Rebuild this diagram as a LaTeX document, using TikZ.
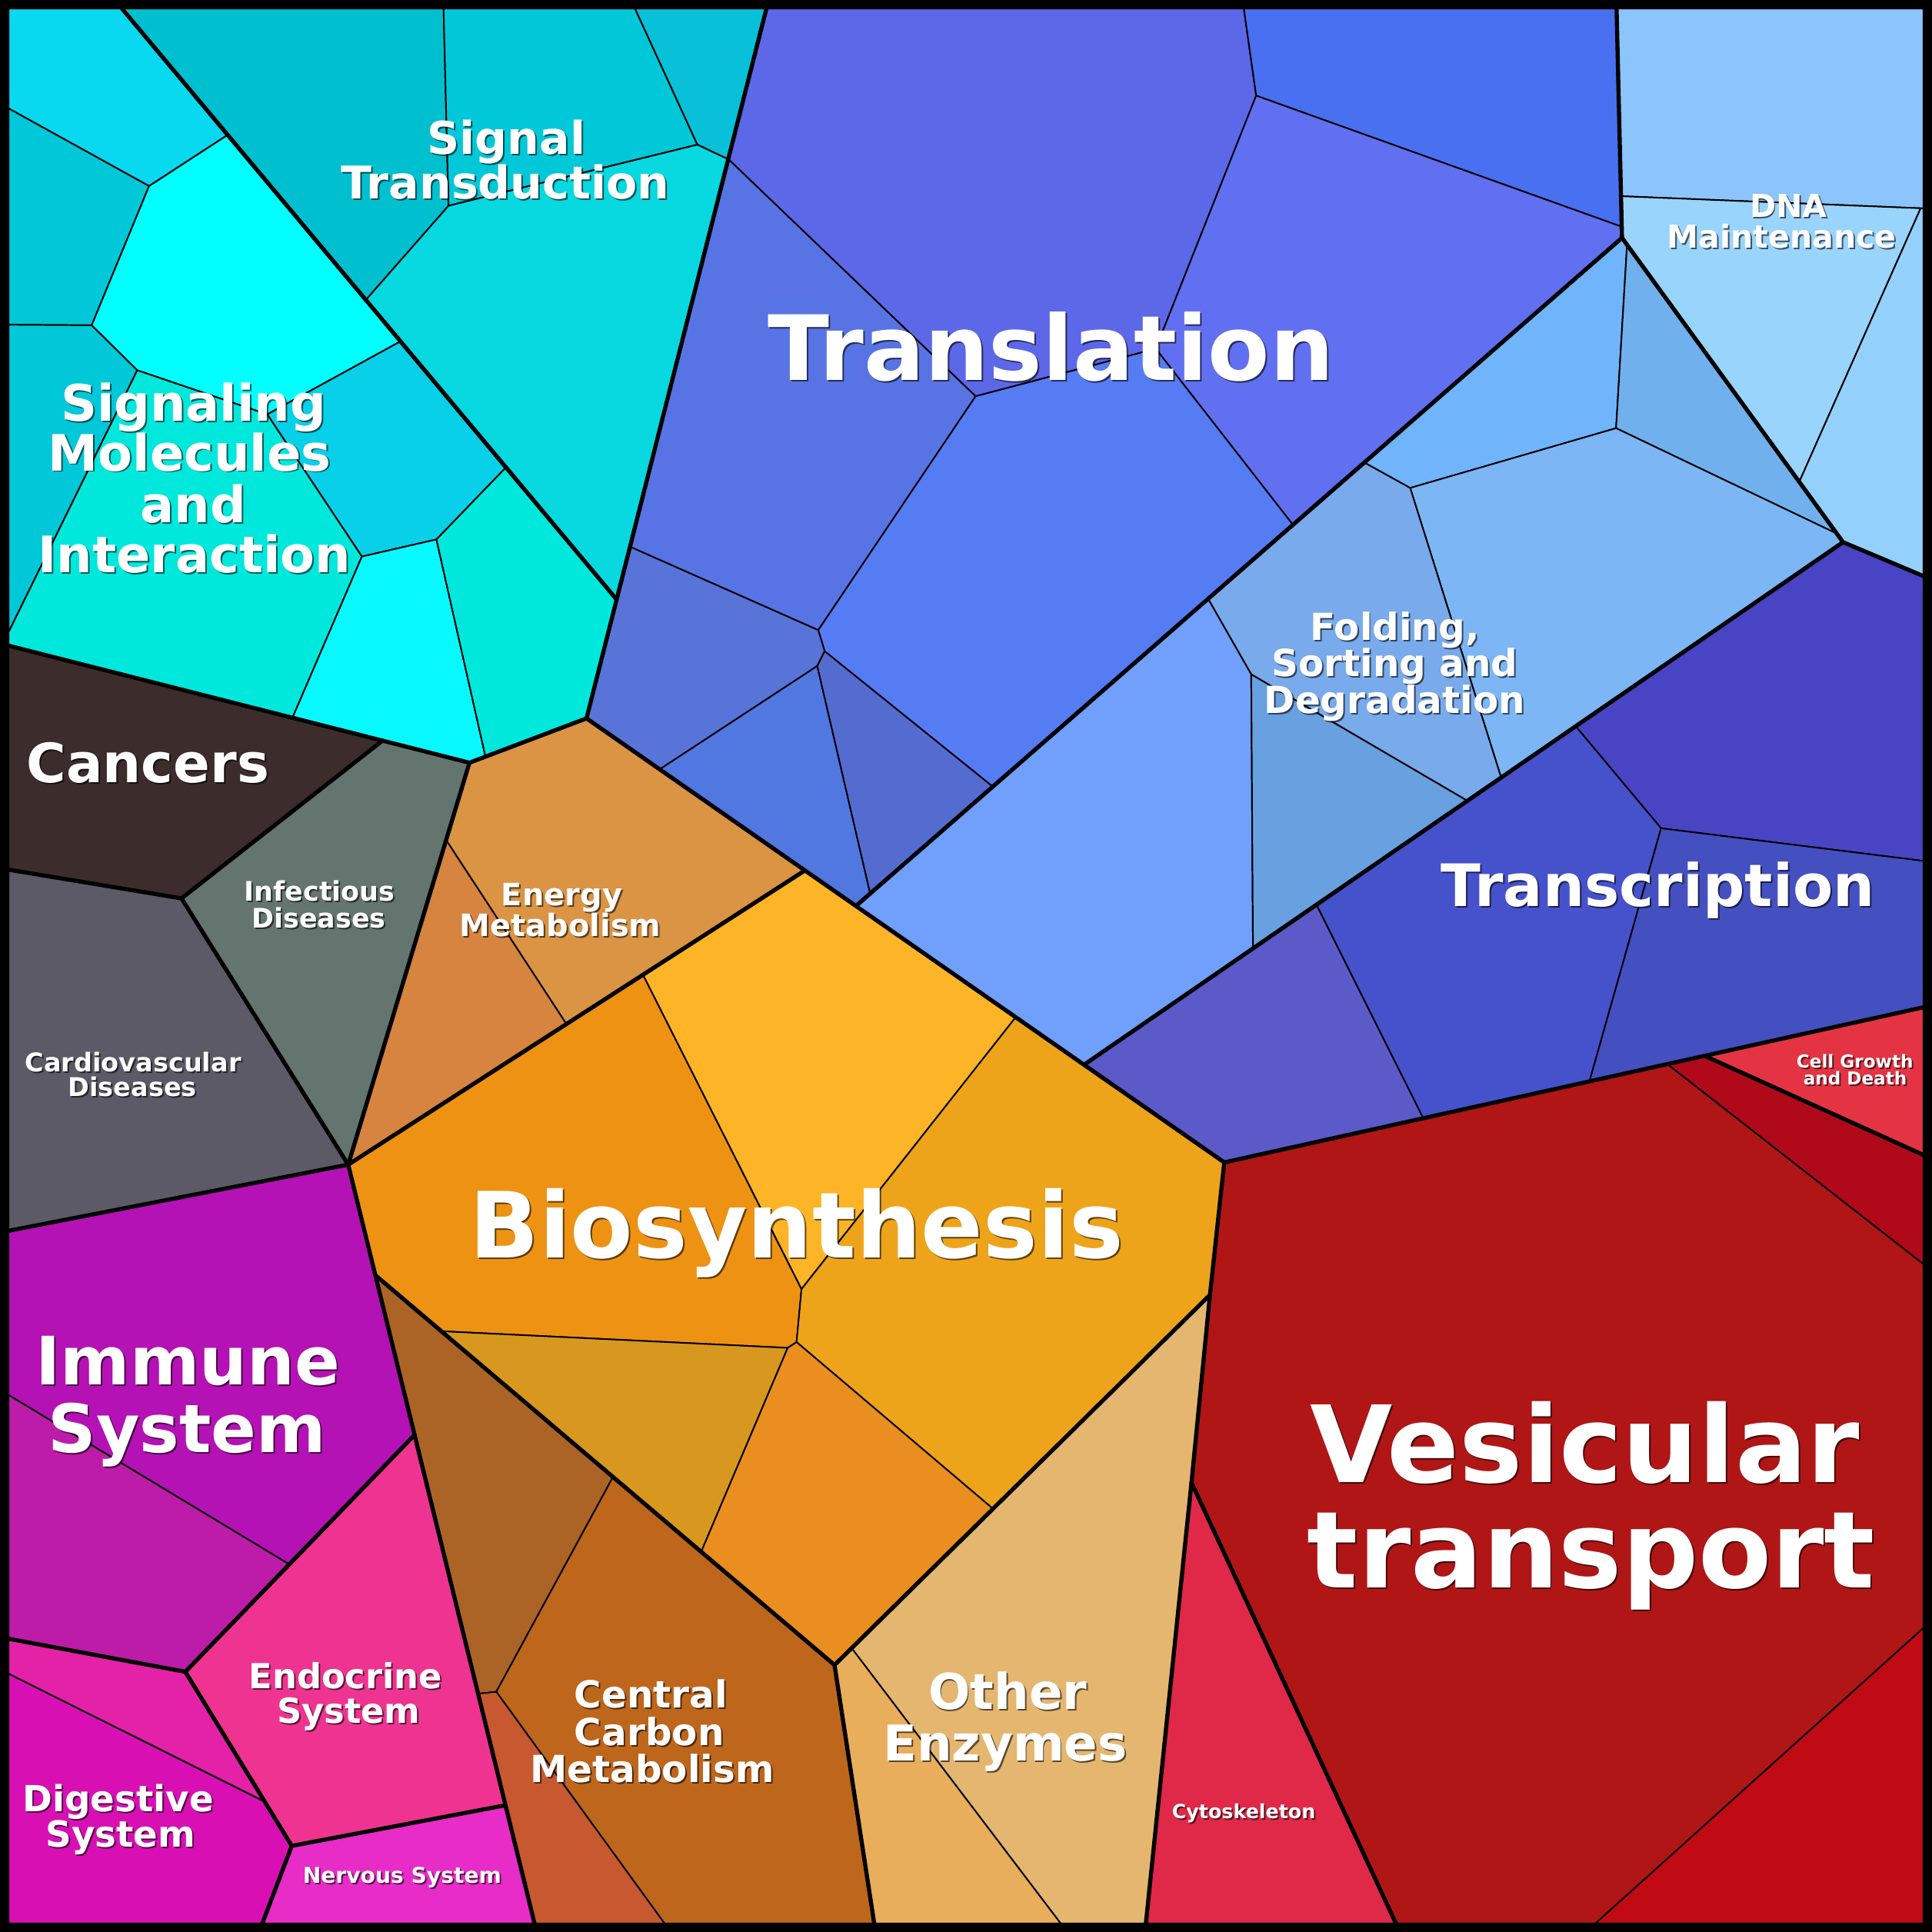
\documentclass[tikz,border=0pt]{standalone}
\usepackage{fontspec}
\setmainfont{DejaVu Sans}
% colours
\definecolor{sa1}{RGB}{8,216,240}
\definecolor{sa2}{RGB}{0,200,216}
\definecolor{sa3}{RGB}{0,255,255}
\definecolor{sa5}{RGB}{8,208,232}
\definecolor{sa6}{RGB}{0,232,220}
\definecolor{sa7}{RGB}{8,248,255}
\definecolor{st1}{RGB}{0,192,208}
\definecolor{st2}{RGB}{0,200,216}
\definecolor{st3}{RGB}{8,192,216}
\definecolor{st4}{RGB}{8,216,224}
\definecolor{tl1}{RGB}{92,104,232}
\definecolor{tl2}{RGB}{72,112,240}
\definecolor{tl3}{RGB}{96,112,240}
\definecolor{tl4}{RGB}{88,116,228}
\definecolor{tl5}{RGB}{86,124,244}
\definecolor{tl6}{RGB}{88,116,216}
\definecolor{tl7}{RGB}{80,120,224}
\definecolor{tl8}{RGB}{84,108,208}
\definecolor{fo1}{RGB}{112,180,252}
\definecolor{fo2}{RGB}{112,176,236}
\definecolor{fo3}{RGB}{124,182,244}
\definecolor{fo4}{RGB}{120,170,236}
\definecolor{fo5}{RGB}{112,160,252}
\definecolor{fo6}{RGB}{104,160,224}
\definecolor{dn1}{RGB}{140,196,252}
\definecolor{dn2}{RGB}{152,212,252}
\definecolor{dn3}{RGB}{148,208,252}
\definecolor{tr1}{RGB}{72,68,196}
\definecolor{tr2}{RGB}{70,82,204}
\definecolor{tr3}{RGB}{68,80,192}
\definecolor{tr4}{RGB}{92,90,200}
\definecolor{ve1}{RGB}{176,22,22}
\definecolor{ve2}{RGB}{176,10,26}
\definecolor{ve3}{RGB}{228,52,68}
\definecolor{ve4}{RGB}{192,10,20}
\definecolor{cyto}{RGB}{224,40,72}
\definecolor{en1}{RGB}{218,148,68}
\definecolor{en2}{RGB}{214,132,64}
\definecolor{canc}{RGB}{60,44,44}
\definecolor{infe}{RGB}{100,116,110}
\definecolor{card}{RGB}{92,90,102}
\definecolor{im1}{RGB}{180,18,180}
\definecolor{im2}{RGB}{188,28,168}
\definecolor{endo}{RGB}{238,52,144}
\definecolor{dg1}{RGB}{228,34,168}
\definecolor{dg2}{RGB}{216,16,180}
\definecolor{nerv}{RGB}{232,44,200}
\definecolor{cc1}{RGB}{172,100,38}
\definecolor{cc2}{RGB}{190,102,28}
\definecolor{cc3}{RGB}{200,88,48}
\definecolor{oe1}{RGB}{228,182,112}
\definecolor{oe2}{RGB}{232,174,92}
\definecolor{bi1}{RGB}{238,146,20}
\definecolor{bi2}{RGB}{253,180,38}
\definecolor{bi3}{RGB}{238,164,26}
\definecolor{bi4}{RGB}{216,152,32}
\definecolor{bi5}{RGB}{234,142,32}
\tikzset{
  cell/.style={draw=black,line width=0.35pt,line join=round},
  boldedge/.style={draw=black,line width=0.95pt,line join=round,line cap=round},
  lbltxt/.style={anchor=base,inner sep=0pt,outer sep=0pt}
}
\newcommand{\mylbl}[5]{%
  \node[lbltxt,text=black,opacity=0.6,xshift=0.35pt,yshift=-0.35pt,font=\fontsize{#4pt}{#4pt}\selectfont\bfseries] (#1s) at (#2,#3) {#5};
  \node[lbltxt,text=white,font=\fontsize{#4pt}{#4pt}\selectfont\bfseries] (#1) at (#2,#3) {#5};}
\begin{document}
\begin{tikzpicture}[x=0.01cm,y=-0.01cm]
\useasboundingbox (0,0) rectangle (1568,1568);
\fill[black] (0,0) rectangle (1568,1568);
% ---------- coordinates ----------
\coordinate (s1) at (99,7);
\coordinate (s2) at (500,486);
\coordinate (a1) at (184,110);
\coordinate (a2) at (121,151);
\coordinate (a3) at (7,88);
\coordinate (a4) at (74.4,264);
\coordinate (a5) at (7,263.5);
\coordinate (a6) at (111.4,300.5);
\coordinate (a7) at (216.9,336.3);
\coordinate (a8) at (324.4,277.4);
\coordinate (a9) at (293.7,451.7);
\coordinate (a10) at (354.2,437.8);
\coordinate (a11) at (410,380);
\coordinate (a12) at (394,614);
\coordinate (a13) at (237.6,582);
\coordinate (a14) at (7,513);
\coordinate (c0) at (7,524);
\coordinate (j1) at (381,619);
\coordinate (j2) at (476,583);
\coordinate (t1) at (360,7);
\coordinate (t2) at (364,167);
\coordinate (t3) at (515.4,7);
\coordinate (t4) at (566,117.4);
\coordinate (t6) at (297.3,243);
\coordinate (b0) at (622,7);
\coordinate (q1) at (591.5,129.5);
\coordinate (u1) at (1009.5,7);
\coordinate (u2) at (1019.5,77.6);
\coordinate (u3) at (938,283);
\coordinate (u4) at (791.8,321.6);
\coordinate (u5) at (664.1,511.4);
\coordinate (u6) at (511.5,443.8);
\coordinate (u7) at (669.3,528.5);
\coordinate (u8) at (663.3,540.5);
\coordinate (u9) at (536,624);
\coordinate (u10) at (706.2,725);
\coordinate (j3) at (695,735);
\coordinate (u11) at (805.7,638.4);
\coordinate (u12) at (1049.4,426);
\coordinate (n1) at (1312,7);
\coordinate (n2) at (1316.4,193);
\coordinate (u13) at (1316.2,184);
\coordinate (f1) at (1320.5,198.6);
\coordinate (f2) at (1311.6,347.5);
\coordinate (f3) at (1144.5,396);
\coordinate (f4) at (1107.3,375.4);
\coordinate (f5) at (1491,433.2);
\coordinate (f6) at (1218.3,631);
\coordinate (f7) at (1190.9,649.9);
\coordinate (f8) at (1015.5,547.3);
\coordinate (f9) at (980.5,486);
\coordinate (f10) at (1016.9,769.7);
\coordinate (j4) at (880,864);
\coordinate (d1) at (1495.8,440);
\coordinate (d2) at (1561,467.5);
\coordinate (g1) at (1315.6,159.2);
\coordinate (g2) at (1558.8,169);
\coordinate (g3) at (1460.3,391);
\coordinate (r1) at (1278.8,589.4);
\coordinate (r2) at (1348.1,672.2);
\coordinate (r3) at (1561,698.7);
\coordinate (r4) at (1290,877.6);
\coordinate (r5) at (1068.4,734.3);
\coordinate (r6) at (1155.1,907.6);
\coordinate (r7) at (1561,817.5);
\coordinate (v0) at (993.6,943.4);
\coordinate (w1) at (1353.3,863.6);
\coordinate (w2) at (1383.5,856.9);
\coordinate (w3) at (1561,937.3);
\coordinate (w4) at (1561,1025.8);
\coordinate (w5) at (1561,1321.3);
\coordinate (w6) at (1294.9,1561);
\coordinate (w7) at (1132.9,1561);
\coordinate (w8) at (967,1203.3);
\coordinate (w9) at (930,1561);
\coordinate (w10) at (982,1050.9);
\coordinate (e1) at (653.3,706.4);
\coordinate (e2) at (362.1,681.8);
\coordinate (e3) at (459.7,831.1);
\coordinate (k1) at (282.6,945.2);
\coordinate (h1) at (310.4,601.1);
\coordinate (h2) at (147.3,729.1);
\coordinate (h3) at (7,705.8);
\coordinate (h4) at (7,998.9);
\coordinate (m0) at (304.7,1035);
\coordinate (m1) at (336.5,1164.5);
\coordinate (m2) at (234.8,1269.6);
\coordinate (m3) at (7,1132.2);
\coordinate (m4) at (150.4,1356.8);
\coordinate (m5) at (7,1330);
\coordinate (m6) at (214.9,1462.3);
\coordinate (m7) at (7,1358.4);
\coordinate (m8) at (236.8,1498.1);
\coordinate (m9) at (410.3,1465.1);
\coordinate (m10) at (212.9,1561);
\coordinate (m11) at (433.8,1561);
\coordinate (p1) at (497.5,1198.7);
\coordinate (p2) at (402.8,1373);
\coordinate (p3) at (388.1,1374.6);
\coordinate (p4) at (539.3,1561);
\coordinate (cc) at (677.3,1351.3);
\coordinate (p5) at (709.5,1561);
\coordinate (o1) at (691.2,1337.6);
\coordinate (o2) at (860.8,1561);
\coordinate (b1) at (521.9,791.1);
\coordinate (b2) at (650.5,1046.2);
\coordinate (b3) at (824.4,825.5);
\coordinate (b4) at (646.5,1089.2);
\coordinate (b5) at (639.3,1093.9);
\coordinate (b6) at (358.2,1080.4);
\coordinate (b7) at (569.1,1259.4);
\coordinate (b8) at (805.9,1224.5);
\begin{scope}
\clip (7,7) rectangle (1561,1561);
% Signaling Molecules and Interaction
\filldraw[cell,fill=sa1] (7,7) -- (s1) -- (a1) -- (a2) -- (a3) -- cycle;
\filldraw[cell,fill=sa2] (a3) -- (a2) -- (a4) -- (a5) -- cycle;
\filldraw[cell,fill=sa3] (a2) -- (a1) -- (a8) -- (a7) -- (a6) -- (a4) -- cycle;
\filldraw[cell,fill=sa2] (a5) -- (a4) -- (a6) -- (a14) -- cycle;
\filldraw[cell,fill=sa5] (a7) -- (a8) -- (a11) -- (a10) -- (a9) -- cycle;
\filldraw[cell,fill=sa6] (a14) -- (a6) -- (a7) -- (a9) -- (a13) -- (c0) -- cycle;
\filldraw[cell,fill=sa7] (a9) -- (a10) -- (a12) -- (j1) -- (a13) -- cycle;
\filldraw[cell,fill=sa6] (a10) -- (a11) -- (s2) -- (j2) -- (a12) -- cycle;
% Signal Transduction
\filldraw[cell,fill=st1] (s1) -- (t1) -- (t2) -- (t6) -- cycle;
\filldraw[cell,fill=st2] (t1) -- (t3) -- (t4) -- (t2) -- cycle;
\filldraw[cell,fill=st3] (t3) -- (b0) -- (q1) -- (t4) -- cycle;
\filldraw[cell,fill=st4] (t2) -- (t4) -- (q1) -- (s2) -- (t6) -- cycle;
% Translation
\filldraw[cell,fill=tl1] (b0) -- (u1) -- (u2) -- (u3) -- (u4) -- (q1) -- cycle;
\filldraw[cell,fill=tl2] (u1) -- (n1) -- (u13) -- (u2) -- cycle;
\filldraw[cell,fill=tl3] (u2) -- (u13) -- (n2) -- (u12) -- (u3) -- cycle;
\filldraw[cell,fill=tl4] (q1) -- (u4) -- (u5) -- (u6) -- cycle;
\filldraw[cell,fill=tl5] (u4) -- (u3) -- (u12) -- (u11) -- (u7) -- (u5) -- cycle;
\filldraw[cell,fill=tl6] (u6) -- (u5) -- (u7) -- (u8) -- (u9) -- (j2) -- cycle;
\filldraw[cell,fill=tl7] (u9) -- (u8) -- (u10) -- (j3) -- cycle;
\filldraw[cell,fill=tl8] (u8) -- (u7) -- (u11) -- (u10) -- cycle;
% Folding, Sorting and Degradation
\filldraw[cell,fill=fo1] (f4) -- (n2) -- (f1) -- (f2) -- (f3) -- cycle;
\filldraw[cell,fill=fo2] (f1) -- (f5) -- (f2) -- cycle;
\filldraw[cell,fill=fo3] (f3) -- (f2) -- (f5) -- (d1) -- (f6) -- cycle;
\filldraw[cell,fill=fo4] (f9) -- (f4) -- (f3) -- (f6) -- (f7) -- (f8) -- cycle;
\filldraw[cell,fill=fo5] (j3) -- (f9) -- (f8) -- (f10) -- (j4) -- cycle;
\filldraw[cell,fill=fo6] (f8) -- (f7) -- (f10) -- cycle;
% DNA Maintenance
\filldraw[cell,fill=dn1] (n1) -- (1561,7) -- (1561,169) -- (g2) -- (g1) -- cycle;
\filldraw[cell,fill=dn2] (g1) -- (g2) -- (g3) -- (n2) -- cycle;
\filldraw[cell,fill=dn3] (g2) -- (1561,169) -- (d2) -- (d1) -- (g3) -- cycle;
% Transcription
\filldraw[cell,fill=tr1] (r1) -- (d1) -- (d2) -- (r3) -- (r2) -- cycle;
\filldraw[cell,fill=tr2] (r5) -- (r1) -- (r2) -- (r4) -- (r6) -- cycle;
\filldraw[cell,fill=tr3] (r2) -- (r3) -- (r7) -- (r4) -- cycle;
\filldraw[cell,fill=tr4] (j4) -- (r5) -- (r6) -- (v0) -- cycle;
% Vesicular transport, Cell Growth and Death, Cytoskeleton
\filldraw[cell,fill=ve1] (v0) -- (w1) -- (w4) -- (w5) -- (w6) -- (w7) -- (w8) -- (w10) -- cycle;
\filldraw[cell,fill=ve2] (w1) -- (w2) -- (w3) -- (w4) -- cycle;
\filldraw[cell,fill=ve3] (w2) -- (r7) -- (w3) -- cycle;
\filldraw[cell,fill=ve4] (w5) -- (1561,1561) -- (w6) -- cycle;
\filldraw[cell,fill=cyto] (w8) -- (w7) -- (w9) -- cycle;
% Energy Metabolism
\filldraw[cell,fill=en1] (j1) -- (j2) -- (e1) -- (e3) -- (e2) -- cycle;
\filldraw[cell,fill=en2] (e2) -- (e3) -- (k1) -- cycle;
% Diseases
\filldraw[cell,fill=canc] (c0) -- (h1) -- (h2) -- (h3) -- cycle;
\filldraw[cell,fill=infe] (h1) -- (j1) -- (k1) -- (h2) -- cycle;
\filldraw[cell,fill=card] (h3) -- (h2) -- (k1) -- (h4) -- cycle;
% Immune, Endocrine, Digestive, Nervous
\filldraw[cell,fill=im1] (h4) -- (k1) -- (m1) -- (m2) -- (m3) -- cycle;
\filldraw[cell,fill=im2] (m3) -- (m2) -- (m4) -- (m5) -- cycle;
\filldraw[cell,fill=endo] (m1) -- (m9) -- (m8) -- (m4) -- cycle;
\filldraw[cell,fill=dg1] (m5) -- (m4) -- (m6) -- (m7) -- cycle;
\filldraw[cell,fill=dg2] (m7) -- (m6) -- (m8) -- (m10) -- (7,1561) -- cycle;
\filldraw[cell,fill=nerv] (m8) -- (m9) -- (m11) -- (m10) -- cycle;
% Central Carbon Metabolism
\filldraw[cell,fill=cc1] (m0) -- (p1) -- (p2) -- (p3) -- cycle;
\filldraw[cell,fill=cc2] (p1) -- (cc) -- (p5) -- (p4) -- (p2) -- cycle;
\filldraw[cell,fill=cc3] (p3) -- (p2) -- (p4) -- (m11) -- cycle;
% Other Enzymes
\filldraw[cell,fill=oe1] (o1) -- (w10) -- (w9) -- (o2) -- cycle;
\filldraw[cell,fill=oe2] (cc) -- (o1) -- (o2) -- (p5) -- cycle;
% Biosynthesis
\filldraw[cell,fill=bi1] (k1) -- (b1) -- (b2) -- (b4) -- (b5) -- (b6) -- (m0) -- cycle;
\filldraw[cell,fill=bi2] (b1) -- (e1) -- (b3) -- (b2) -- cycle;
\filldraw[cell,fill=bi3] (b3) -- (v0) -- (w10) -- (b8) -- (b4) -- (b2) -- cycle;
\filldraw[cell,fill=bi4] (b6) -- (b5) -- (b7) -- cycle;
\filldraw[cell,fill=bi5] (b5) -- (b4) -- (b8) -- (cc) -- (b7) -- cycle;
% ---------- category borders ----------
\draw[boldedge] (s1) -- (s2);
\draw[boldedge] (b0) -- (j2);
\draw[boldedge] (c0) -- (j1) -- (j2) -- (v0);
\draw[boldedge] (j3) -- (n2);
\draw[boldedge] (n1) -- (n2) -- (d1) -- (d2);
\draw[boldedge] (d1) -- (j4);
\draw[boldedge] (v0) -- (r7);
\draw[boldedge] (v0) -- (w10) -- (w8) -- (w9);
\draw[boldedge] (w8) -- (w7);
\draw[boldedge] (w2) -- (w3);
\draw[boldedge] (j1) -- (k1) -- (m11);
\draw[boldedge] (e1) -- (k1);
\draw[boldedge] (h4) -- (k1);
\draw[boldedge] (h1) -- (h2) -- (h3);
\draw[boldedge] (h2) -- (k1);
\draw[boldedge] (m0) -- (cc) -- (w10);
\draw[boldedge] (cc) -- (p5);
\draw[boldedge] (m1) -- (m4) -- (m5);
\draw[boldedge] (m4) -- (m8) -- (m10);
\draw[boldedge] (m8) -- (m9);
\end{scope}
% ---------- labels ----------
\mylbl{ltransl}{853}{308.5}{20.8}{Translation}
\mylbl{lbio}{646.5}{1021}{21.1}{Biosynthesis}
\mylbl{lves1}{1286.4}{1203.3}{24.6}{Vesicular}
\mylbl{lves2}{1291.5}{1288.9}{24.6}{transport}
\mylbl{ltransc}{1345.6}{735.6}{13.5}{Transcription}
\mylbl{lsm1}{157}{341.5}{11.6}{Signaling}
\mylbl{lsm2}{154}{382}{11.6}{Molecules}
\mylbl{lsm3}{157}{423.9}{11.6}{and}
\mylbl{lsm4}{157.8}{464.9}{11.6}{Interaction}
\mylbl{lst1}{411}{125.4}{10.4}{Signal}
\mylbl{lst2}{410}{161.2}{10.4}{Transduction}
\mylbl{lcan}{120}{635.3}{12.5}{Cancers}
\mylbl{linf1}{259.4}{731.3}{6.2}{Infectious}
\mylbl{linf2}{258.7}{752.8}{6.2}{Diseases}
\mylbl{len1}{456}{734.9}{7.1}{Energy}
\mylbl{len2}{454.7}{760}{7.1}{Metabolism}
\mylbl{lcar1}{108}{870}{5.95}{Cardiovascular}
\mylbl{lcar2}{107.5}{889.6}{5.95}{Diseases}
\mylbl{lim1}{152.5}{1124.1}{15.4}{Immune}
\mylbl{lim2}{152}{1179}{15.4}{System}
\mylbl{lendo1}{280.5}{1370.7}{7.95}{Endocrine}
\mylbl{lendo2}{283}{1398.8}{7.95}{System}
\mylbl{ldig1}{96}{1470}{8.3}{Digestive}
\mylbl{ldig2}{98}{1499}{8.3}{System}
\mylbl{lnerv}{326.4}{1528.1}{5.0}{Nervous System}
\mylbl{lccm1}{528.3}{1385.9}{8.6}{Central}
\mylbl{lccm2}{527}{1416.6}{8.6}{Carbon}
\mylbl{lccm3}{529.3}{1446.4}{8.6}{Metabolism}
\mylbl{loe1}{817.8}{1387.5}{11.4}{Other}
\mylbl{loe2}{815.8}{1428.9}{11.4}{Enzymes}
\mylbl{lcyto}{1009.4}{1475.8}{4.5}{Cytoskeleton}
\mylbl{lcgd1}{1505.4}{866.4}{4.1}{Cell Growth}
\mylbl{lcgd2}{1505.6}{880.7}{4.1}{and Death}
\mylbl{lfsd1}{1132}{519.4}{8.6}{Folding,}
\mylbl{lfsd2}{1132}{549.2}{8.6}{Sorting and}
\mylbl{lfsd3}{1132}{579}{8.6}{Degradation}
\mylbl{ldna1}{1451.4}{176.3}{7.3}{DNA}
\mylbl{ldna2}{1446}{201}{7.3}{Maintenance}
\end{tikzpicture}
\end{document}
